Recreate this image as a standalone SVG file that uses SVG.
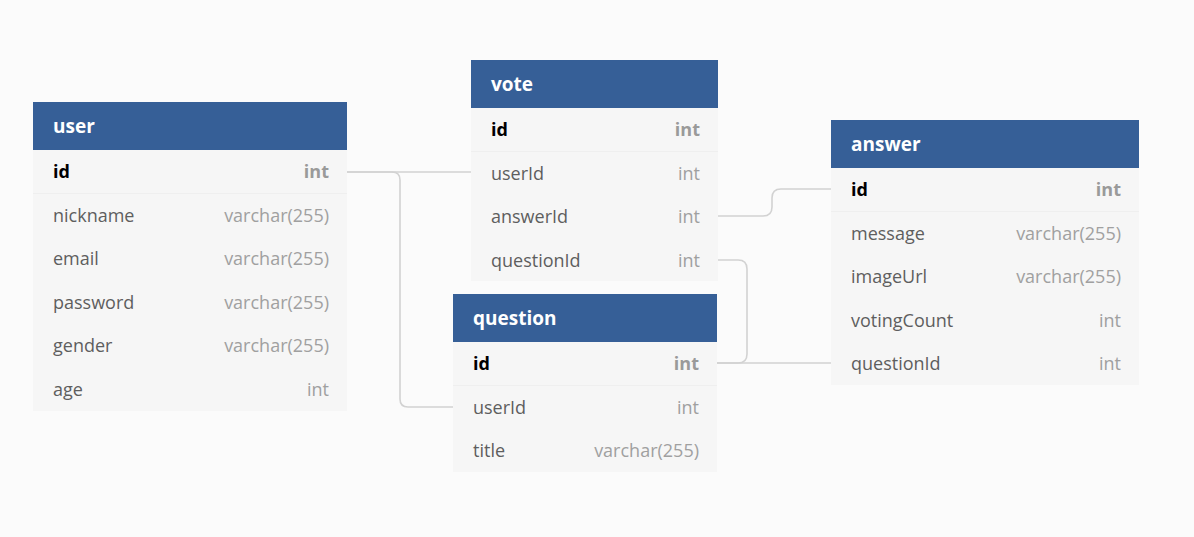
<svg xmlns="http://www.w3.org/2000/svg" width="1194" height="537" viewBox="0 0 1194 537">
<style>
.bg{fill:#fbfbfb}
.body{fill:#f6f6f6}
.sep{stroke:#efefef;stroke-width:1}
.hdr{fill:#365f97}
.ht{font-family:"Open Sans","Noto Sans",sans-serif;font-size:19px;font-weight:bold;fill:#ffffff}
.fn{font-family:"Open Sans","Noto Sans",sans-serif;font-size:18px;fill:#5e5e5e}
.ty{font-family:"Open Sans","Noto Sans",sans-serif;font-size:18px;fill:#a0a0a0;text-anchor:end}
.pk{font-family:"Open Sans","Noto Sans",sans-serif;font-size:18px;font-weight:bold;fill:#000000}
.pkt{font-family:"Open Sans","Noto Sans",sans-serif;font-size:18px;font-weight:bold;fill:#9a9a9a;text-anchor:end}
.conn{fill:none;stroke:#d2d2d2;stroke-width:1.6}
</style>
<rect class="bg" x="0" y="0" width="1194" height="537"/>
<g id="connectors">
<path class="conn" d="M347,172 H471"/>
<path class="conn" d="M347,172 H392 Q400,172 400,180 V399 Q400,407 408,407 H453"/>
<path class="conn" d="M718,216 H763 Q772,216 772,207 V198 Q772,189 781,189 H831"/>
<path class="conn" d="M718,260 H738 Q747,260 747,269 V354 Q747,363 738,363 H717"/>
<path class="conn" d="M717,363 H831"/>
</g>
<g id="user">
<rect class="body" x="33" y="150" width="314" height="261"/>
<line class="sep" x1="33" y1="193.5" x2="347" y2="193.5"/>
<rect class="hdr" x="33" y="102" width="314" height="48"/>
<text class="ht" x="53" y="133">user</text>
<text class="pk" x="53" y="178">id</text><text class="pkt" x="329" y="178">int</text>
<text class="fn" x="53" y="222">nickname</text><text class="ty" x="329" y="222">varchar(255)</text>
<text class="fn" x="53" y="265">email</text><text class="ty" x="329" y="265">varchar(255)</text>
<text class="fn" x="53" y="309">password</text><text class="ty" x="329" y="309">varchar(255)</text>
<text class="fn" x="53" y="352">gender</text><text class="ty" x="329" y="352">varchar(255)</text>
<text class="fn" x="53" y="396">age</text><text class="ty" x="329" y="396">int</text>
</g>
<g id="vote">
<rect class="body" x="471" y="108" width="247" height="173"/>
<line class="sep" x1="471" y1="151.5" x2="718" y2="151.5"/>
<rect class="hdr" x="471" y="60" width="247" height="48"/>
<text class="ht" x="491" y="91">vote</text>
<text class="pk" x="491" y="136">id</text><text class="pkt" x="700" y="136">int</text>
<text class="fn" x="491" y="180">userId</text><text class="ty" x="700" y="180">int</text>
<text class="fn" x="491" y="223">answerId</text><text class="ty" x="700" y="223">int</text>
<text class="fn" x="491" y="267">questionId</text><text class="ty" x="700" y="267">int</text>
</g>
<g id="question">
<rect class="body" x="453" y="342" width="264" height="130"/>
<line class="sep" x1="453" y1="385.5" x2="717" y2="385.5"/>
<rect class="hdr" x="453" y="294" width="264" height="48"/>
<text class="ht" x="473" y="325">question</text>
<text class="pk" x="473" y="370">id</text><text class="pkt" x="699" y="370">int</text>
<text class="fn" x="473" y="414">userId</text><text class="ty" x="699" y="414">int</text>
<text class="fn" x="473" y="457">title</text><text class="ty" x="699" y="457">varchar(255)</text>
</g>
<g id="answer">
<rect class="body" x="831" y="168" width="308" height="217"/>
<line class="sep" x1="831" y1="211.5" x2="1139" y2="211.5"/>
<rect class="hdr" x="831" y="120" width="308" height="48"/>
<text class="ht" x="851" y="151">answer</text>
<text class="pk" x="851" y="196">id</text><text class="pkt" x="1121" y="196">int</text>
<text class="fn" x="851" y="240">message</text><text class="ty" x="1121" y="240">varchar(255)</text>
<text class="fn" x="851" y="283">imageUrl</text><text class="ty" x="1121" y="283">varchar(255)</text>
<text class="fn" x="851" y="327">votingCount</text><text class="ty" x="1121" y="327">int</text>
<text class="fn" x="851" y="370">questionId</text><text class="ty" x="1121" y="370">int</text>
</g>
</svg>
